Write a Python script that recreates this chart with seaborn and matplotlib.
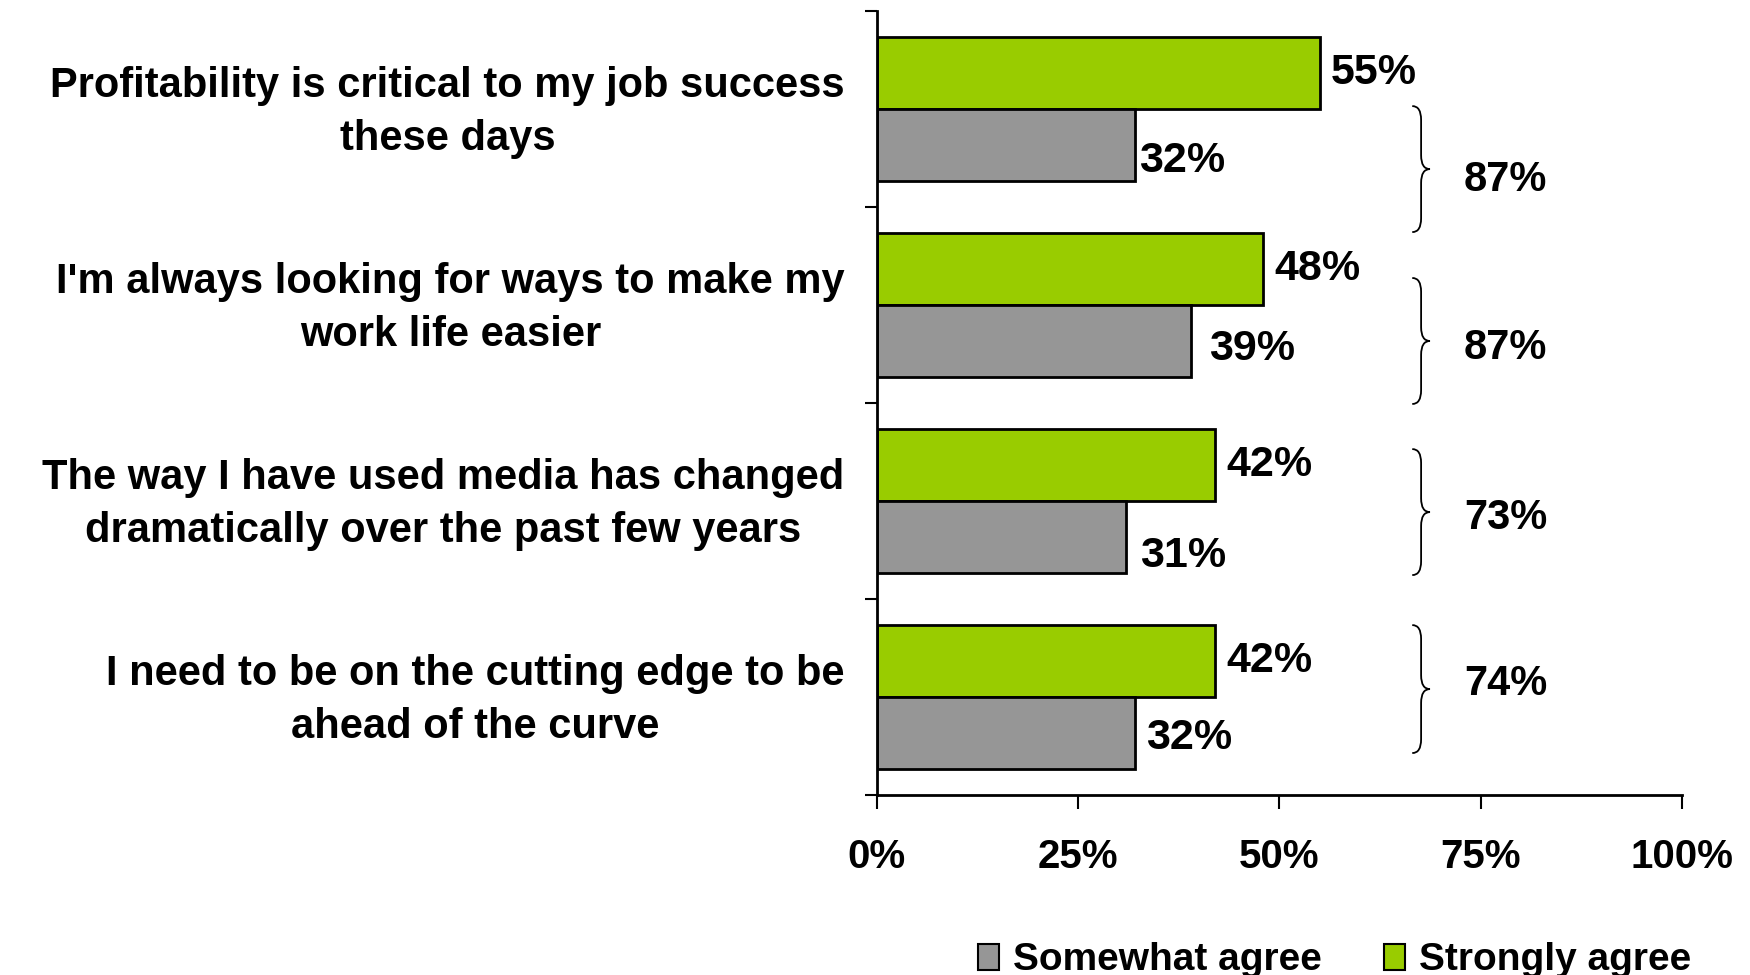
import matplotlib
matplotlib.use("Agg")
import matplotlib.pyplot as plt
from matplotlib.path import Path
from matplotlib.patches import PathPatch, Patch
import seaborn as sns
import pandas as pd

# Survey statements and agreement shares (%)
statements = [
    "Profitability is critical to my job success\nthese days",
    "I'm always looking for ways to make my\nwork life easier",
    "The way I have used media has changed\ndramatically over the past few years",
    "I need to be on the cutting edge to be\nahead of the curve",
]
strongly_agree = [55, 48, 42, 42]
somewhat_agree = [32, 39, 31, 32]
series_names = ["Strongly agree", "Somewhat agree"]
x_ticks = [0, 25, 50, 75, 100]
x_tick_labels = ["0%", "25%", "50%", "75%", "100%"]

totals = [s + w for s, w in zip(strongly_agree, somewhat_agree)]

colors = {"Strongly agree": "#99CC00", "Somewhat agree": "#969696"}

sns.set_theme(style="white")
plt.rcParams["font.family"] = ["Liberation Sans", "DejaVu Sans"]
plt.rcParams["font.weight"] = "bold"
for key in ["text.color", "xtick.color", "ytick.color", "axes.labelcolor"]:
    plt.rcParams[key] = "black"
FS = 30

df = pd.DataFrame({
    "statement": statements * 2,
    "series": [series_names[0]] * len(statements) + [series_names[1]] * len(statements),
    "value": strongly_agree + somewhat_agree,
})

fig = plt.figure(figsize=(17.5, 9.75), dpi=100)
ax = fig.add_axes([0.5011, 0.1846, 0.46, 0.8041])

sns.barplot(
    data=df, y="statement", x="value", hue="series", order=statements,
    hue_order=series_names, palette=colors, orient="h", width=0.73,
    saturation=1, edgecolor="black", linewidth=2, legend=False, ax=ax,
)

# Value labels at bar ends (offsets in points: right, down)
green_offsets = [(8, 0), (8, 0), (8, 0), (8, 0)]
gray_offsets = [(3, -12), (13, -6), (10, -14), (8, -4)]
for container, vals, offs in zip(ax.containers, [strongly_agree, somewhat_agree],
                                 [green_offsets, gray_offsets]):
    for bar, v, (dx, dy) in zip(container, vals, offs):
        yc = bar.get_y() + bar.get_height() / 2
        ax.annotate(f"{v}%", xy=(bar.get_width(), yc), xytext=(dx, dy),
                    textcoords="offset points", ha="left", va="center",
                    fontsize=FS + 1, fontweight="bold", color="black")

ax.set_xlim(0, 100)
ax.set_ylim(len(statements) - 0.5, -0.5)
ax.set_xlabel("")
ax.set_ylabel("")

# X axis
ax.set_xticks(x_ticks)
ax.set_xticklabels(x_tick_labels, fontsize=FS - 1, fontweight="bold")
ax.tick_params(axis="x", direction="out", length=10, width=1.5, pad=21, colors="black", bottom=True)

# Y axis: boundary ticks only; statements drawn as text beside each category
ax.set_yticks([i - 0.5 for i in range(len(statements) + 1)])
ax.set_yticklabels([])
ax.tick_params(axis="y", which="major", direction="out", length=9, width=1.5, left=True, colors="black")
ytrans = ax.get_yaxis_transform()
for i, s in enumerate(statements):
    ax.text(-0.04, i + 0.018, s, transform=ytrans, ha="right", va="center",
            multialignment="center", linespacing=1.42, fontsize=FS,
            fontweight="bold", color="black")

for side in ["top", "right"]:
    ax.spines[side].set_visible(False)
for side in ["left", "bottom"]:
    ax.spines[side].set_color("black")
    ax.spines[side].set_linewidth(2)

# Curly braces with combined totals
brace_spans = [(-0.015, 0.628), (0.862, 1.505), (1.735, 2.378), (2.633, 3.286)]
total_label_y = [0.36, 1.22, 2.085, 2.935]
x_hook, x_body, x_tip = 66.5, 67.6, 68.7
r = 0.07
for (top, bot), ly, tot in zip(brace_spans, total_label_y, totals):
    mid = (top + bot) / 2
    verts = [
        (x_hook, top), (x_body, top), (x_body, top + r),
        (x_body, mid - r),
        (x_body, mid), (x_tip, mid),
        (x_body, mid), (x_body, mid + r),
        (x_body, bot - r),
        (x_body, bot), (x_hook, bot),
    ]
    codes = [
        Path.MOVETO, Path.CURVE3, Path.CURVE3,
        Path.LINETO,
        Path.CURVE3, Path.CURVE3,
        Path.CURVE3, Path.CURVE3,
        Path.LINETO,
        Path.CURVE3, Path.CURVE3,
    ]
    ax.add_patch(PathPatch(Path(verts, codes), fill=False, edgecolor="black", lw=1.3,
                           clip_on=False))
    ax.text(78.1, ly, f"{tot}%", ha="center", va="center", fontsize=FS,
            fontweight="bold", color="black")

# Legend
handles = [Patch(facecolor=colors["Somewhat agree"], edgecolor="black", linewidth=1.5),
           Patch(facecolor=colors["Strongly agree"], edgecolor="black", linewidth=1.5)]
fig.legend(handles, ["Somewhat agree", "Strongly agree"], loc="center",
           bbox_to_anchor=(0.7625, 0.015), ncol=2, frameon=False,
           prop={"size": FS - 2, "weight": "bold"}, handlelength=0.55, handleheight=0.65,
           handletextpad=0.35, columnspacing=1.6, borderaxespad=0, borderpad=0)

fig.savefig("out.png", dpi=100, facecolor="white")
